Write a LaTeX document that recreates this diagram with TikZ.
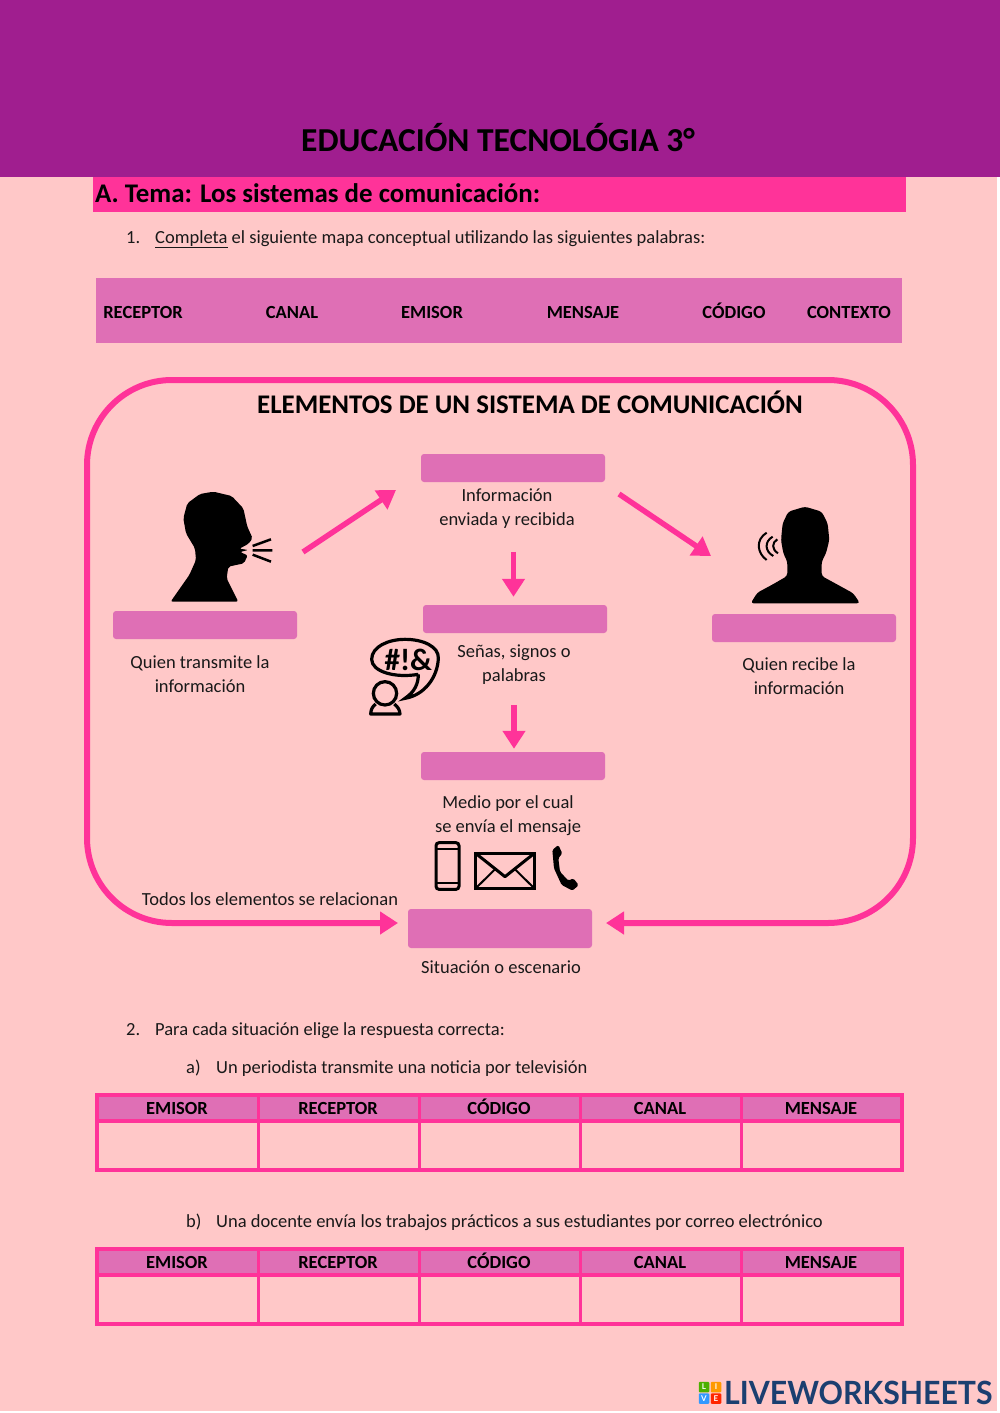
\documentclass[tikz,border=0pt]{standalone}
\usepackage{fontspec}
\setmainfont{Carlito}
\newfontfamily\logofont{Lato}
\usetikzlibrary{arrows.meta, positioning, calc}
\definecolor{myPurple}{RGB}{160,30,143}
\definecolor{myPink}{RGB}{255,51,153}
\definecolor{myRose}{RGB}{223,111,181}
\definecolor{myPage}{RGB}{255,200,200}
\definecolor{myNavy}{RGB}{27,63,112}
\tikzset{
	bodytext/.style={font=\fontsize{18.5}{24}\selectfont, align=center, inner sep=0pt, text=black!90},
	linetext/.style={bodytext, anchor=base west},
	boldtext/.style={font=\fontsize{18.5}{22}\selectfont\bfseries, inner sep=0pt, text=black},
	wordtext/.style={boldtext, text height=13pt, text depth=4pt},
	blankbox/.style={fill=myRose, rounded corners=3pt, minimum width=184pt, minimum height=28pt, inner sep=0pt},
	pinkarrow/.style={-{Triangle[length=18pt, width=22pt]}, line width=5.5pt, myPink},
	logotile/.style={minimum size=10.5pt, inner sep=0pt, rounded corners=1pt, text=white, font=\logofont\fontsize{8}{8}\selectfont\bfseries}
}

\begin{document}
\begin{tikzpicture}[x=1pt, y=-1pt]
	\useasboundingbox (0,0) rectangle (1000,1413);
	% Page and header
	\fill[myPage] (0,0) rectangle (997,1411);
	\fill[myPurple] (0,0) rectangle (1000,177);
	\node[boldtext, font=\fontsize{33.5}{38}\selectfont\bfseries] (title) at (498,137.5) {EDUCACIÓN TECNOLÓGIA 3°};
	\fill[myPink] (93,177) rectangle (906,212);
	\node[boldtext, font=\fontsize{26.9}{30}\selectfont\bfseries, anchor=west] (tema) at (95,193) {A. Tema: Los sistemas de comunicación:};
	% Question 1
	\node[linetext] (num1) at (126,243) {1.};
	\node[linetext] (q1) at (155,243) {\underline{Completa} el siguiente mapa conceptual utilizando las siguientes palabras:};
	% Word band
	\fill[myRose] (96,278) rectangle (902,343);
	\node[wordtext] (w1) at (143,313.5) {RECEPTOR};
	\node[wordtext] (w2) at (292,313.5) {CANAL};
	\node[wordtext] (w3) at (432,313.5) {EMISOR};
	\node[wordtext] (w4) at (583,313.5) {MENSAJE};
	\node[wordtext] (w5) at (734,313.5) {CÓDIGO};
	\node[wordtext] (w6) at (849,313.5) {CONTEXTO};
	% Concept map
	\node[boldtext, font=\fontsize{26.9}{30}\selectfont\bfseries] (maptitle) at (530,402) {ELEMENTOS DE UN SISTEMA DE COMUNICACIÓN};
	\node[blankbox] (mensaje) at (513,468) {};
	\node[bodytext] (mensajetxt) at (507,509) {Información\\enviada y recibida};
	\node[blankbox] (codigo) at (515,619) {};
	\node[bodytext] (codigotxt) at (514,665) {Señas, signos o\\palabras};
	\node[blankbox] (canal) at (513,766) {};
	\node[bodytext] (canaltxt) at (508,816) {Medio por el cual\\se envía el mensaje};
	\node[blankbox, minimum height=39pt] (contexto) at (500,928.5) {};
	\node[bodytext] (contextotxt) at (501,967) {Situación o escenario};
	\node[blankbox] (emisor) at (205,625) {};
	\node[bodytext] (emisortxt) at (200,674) {Quien transmite la\\información};
	\node[blankbox] (receptor) at (804,628) {};
	\node[bodytext] (receptortxt) at (799,676) {Quien recibe la\\información};
	\node[bodytext] (todos) at (270,899) {Todos los elementos se relacionan};
	% Arrows
	\coordinate (emisorEnd) at (303,552);
	\coordinate (mensajeIn) at (396,490);
	\coordinate (mensajeOut) at (619,494);
	\coordinate (receptorIn) at (711,556);
	\coordinate (frameL) at (398,923);
	\coordinate (frameR) at (606,923);
	\draw[pinkarrow] (emisorEnd) -- (mensajeIn);
	\draw[pinkarrow] (mensajeOut) -- (receptorIn);
	\draw[pinkarrow] ($(codigo.north)+(-1.5,-53)$) -- ($(codigo.north)+(-1.5,-8)$);
	\draw[pinkarrow] ($(canal.north)+(1,-47)$) -- ($(canal.north)+(1,-3)$);
	% Frame
	\draw[{Triangle[length=18pt, width=22pt]}-{Triangle[length=18pt, width=22pt]}, line width=6pt, myPink, rounded corners=85pt]
		(frameR) -- (913,923) -- (913,380) -- (87,380) -- (87,923) -- (frameL);
	% Speaker
	\begin{scope}[shift={(100,470)}, scale=0.3333]
		\fill[black, rounded corners=2pt] (212,395) -- (268,315) -- (288,270) -- (285,235) -- (258,190) -- (250,145) -- (262,100) -- (300,72) -- (340,65) -- (395,78) -- (430,115) -- (442,170) -- (458,205) -- (445,222) -- (418,236) -- (445,240) -- (420,246) -- (443,256) -- (432,280) -- (385,290) -- (380,325) -- (415,395) -- cycle;
		\draw[line width=2.5pt] (458,228) -- (513,208) (458,241) -- (517,241) (458,254) -- (513,275);
	\end{scope}
	% Listener
	\begin{scope}[shift={(700,490)}, scale=0.3333]
		\fill[black, rounded corners=3pt] (152,340) -- (172,308) -- (215,285) -- (262,258) -- (262,215) -- (250,190) -- (243,150) -- (248,100) -- (265,65) -- (315,50) -- (365,65) -- (383,100) -- (388,150) -- (378,190) -- (365,215) -- (365,258) -- (420,288) -- (460,310) -- (480,340) -- cycle;
		\draw[line width=2pt] (200,128) .. controls (165,150) and (172,190) .. (200,210);
		\draw[line width=2pt] (218,140) .. controls (192,155) and (195,185) .. (220,198);
		\draw[line width=2pt] (232,148) .. controls (215,158) and (215,178) .. (234,190);
	\end{scope}
	% Speech bubble
	\begin{scope}[shift={(355,630)}, scale=0.3333]
		\draw[line width=3.2pt] (190,133) .. controls (120,145) and (50,125) .. (50,88) .. controls (50,50) and (100,28) .. (150,28) .. controls (205,28) and (252,50) .. (250,85) .. controls (248,140) and (210,195) .. (150,205) .. controls (180,185) and (190,160) .. (190,133);
		\draw[line width=3.2pt] (90,190) circle[radius=35];
		\draw[line width=3.2pt, line join=round] (62,222) .. controls (50,232) and (48,240) .. (47,252) -- (135,252) .. controls (134,240) and (130,232) .. (118,222);
		\node[boldtext, font=\fontsize{31}{31}\selectfont\bfseries] (symbols) at (160,90) {\#!\&};
	\end{scope}
	% Phone, envelope and handset
	\begin{scope}[shift={(420,830)}, scale=0.3333]
		\draw[line width=3pt, rounded corners=3pt] (48,38) rectangle (117,178);
		\draw[line width=2pt] (48,56) -- (117,56) (48,160) -- (117,160);
		\draw[line width=3pt] (167,70) rectangle (343,175);
		\draw[line width=3pt, line join=round] (167,70) -- (255,140) -- (343,70);
		\draw[line width=2pt] (167,175) -- (225,118) (343,175) -- (285,118);
		\fill[black, rounded corners=1.5pt] (397,60) -- (415,45) -- (427,70) -- (415,85) -- (420,125) -- (445,152) -- (460,145) -- (476,165) -- (458,182) -- (425,165) -- (402,115) -- cycle;
	\end{scope}
	% Question 2
	\node[linetext] (num2) at (126,1035) {2.};
	\node[linetext] (q2) at (155,1035) {Para cada situación elige la respuesta correcta:};
	\node[linetext] (qa) at (186,1073) {a)};
	\node[linetext] (qatxt) at (216,1073) {Un periodista transmite una noticia por televisión};
	\node[linetext] (qb) at (186,1227) {b)};
	\node[linetext] (qbtxt) at (216,1227) {Una docente envía los trabajos prácticos a sus estudiantes por correo electrónico};
	% Answer tables
	\foreach \ytop/\tbl in {1095/a, 1249/b} {
		\fill[myRose] (97,\ytop) rectangle (902,\ytop+26);
		\draw[myPink, line width=3.5pt] (97,\ytop) rectangle (902,\ytop+75);
		\draw[myPink, line width=3.5pt] (97,\ytop+26) -- (902,\ytop+26);
		\foreach \xcol in {258,419,580,741} {
			\draw[myPink, line width=3pt] (\xcol,\ytop) -- (\xcol,\ytop+75);
		}
		\foreach \xtxt/\word/\nm in {177/EMISOR/e, 338/RECEPTOR/r, 499/CÓDIGO/c, 660/CANAL/k, 821/MENSAJE/m} {
			\node[wordtext] (\tbl\nm) at (\xtxt,\ytop+14.5) {\word};
		}
	}
	% Logo
	\node[logotile, fill=green!55!black!70!yellow] (tileL) at (704,1387) {L};
	\node[logotile, fill=orange!80!yellow] (tileI) at (716,1387) {I};
	\node[logotile, fill=blue!50!cyan!80!white] (tileV) at (704,1398.5) {V};
	\node[logotile, fill=red!70!orange] (tileE) at (716,1398.5) {E};
	\node[inner sep=0pt, anchor=west, text=myNavy, font=\logofont\fontsize{32}{32}\selectfont\bfseries] (logo) at (724,1393) {\scalebox{0.945}[1]{LIVEWORKSHEETS}};
\end{tikzpicture}
\end{document}
